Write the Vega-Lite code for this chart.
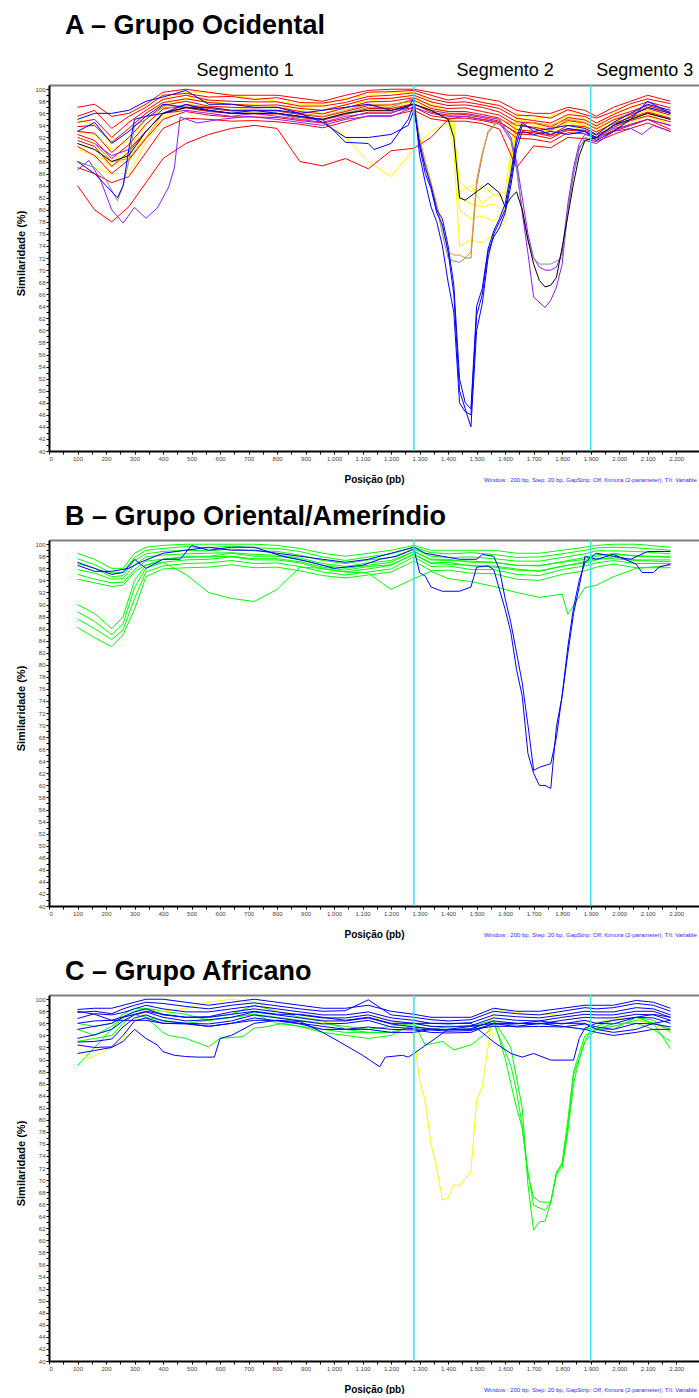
{
"$schema":"https://vega.github.io/schema/vega-lite/v6.json",
"padding":{"left":15,"top":12,"right":0,"bottom":0},
"resolve":{"scale":{"color":"independent"}},
"config":{"view":{"stroke":null},"font":"Liberation Sans",
"axis":{"labelFont":"Liberation Sans","labelFontSize":6,"labelColor":"#444","tickColor":"#000","tickSize":3,"domainColor":"#000","domainWidth":2,"grid":false,"titleFont":"Liberation Sans","titleFontWeight":"bold","titleColor":"#000"},
"title":{"anchor":"start","frame":"group","dx":16,"font":"Liberation Sans","fontSize":27,"fontWeight":"bold","color":"#000","offset":8},
"concat":{"spacing":19}},
"datasets":{
"A":[
{"s":"y6","x":100,"y":88},{"s":"y6","x":160,"y":87},{"s":"y6","x":220,"y":86},{"s":"y6","x":280,"y":86},{"s":"y6","x":340,"y":91},{"s":"y6","x":400,"y":95},{"s":"y6","x":480,"y":97},{"s":"y6","x":560,"y":96.5},{"s":"y6","x":640,"y":96},{"s":"y6","x":720,"y":96},{"s":"y6","x":800,"y":96},{"s":"y6","x":880,"y":95.5},{"s":"y6","x":960,"y":95},{"s":"y6","x":1040,"y":96},{"s":"y6","x":1120,"y":97},{"s":"y6","x":1200,"y":97},{"s":"y6","x":1280,"y":98},{"s":"y6","x":1340,"y":96.5},{"s":"y6","x":1400,"y":96},{"s":"y6","x":1460,"y":96},{"s":"y6","x":1520,"y":95.5},{"s":"y6","x":1580,"y":95},{"s":"y6","x":1640,"y":94},{"s":"y6","x":1700,"y":93.5},{"s":"y6","x":1760,"y":93},{"s":"y6","x":1820,"y":94.5},{"s":"y6","x":1880,"y":94},{"s":"y6","x":1920,"y":93},{"s":"y6","x":1980,"y":94.5},{"s":"y6","x":2040,"y":95.5},{"s":"y6","x":2100,"y":96.5},{"s":"y6","x":2180,"y":95},
{"s":"y1","x":100,"y":95},{"s":"y1","x":160,"y":94},{"s":"y1","x":220,"y":91},{"s":"y1","x":280,"y":93},{"s":"y1","x":340,"y":96},{"s":"y1","x":400,"y":98.5},{"s":"y1","x":480,"y":99.5},{"s":"y1","x":560,"y":99.5},{"s":"y1","x":640,"y":99},{"s":"y1","x":720,"y":98.5},{"s":"y1","x":800,"y":98},{"s":"y1","x":880,"y":97.5},{"s":"y1","x":960,"y":97.5},{"s":"y1","x":1040,"y":98.5},{"s":"y1","x":1120,"y":99},{"s":"y1","x":1200,"y":99.5},{"s":"y1","x":1280,"y":99.5},{"s":"y1","x":1340,"y":98},{"s":"y1","x":1400,"y":96},{"s":"y1","x":1420,"y":93},{"s":"y1","x":1440,"y":84.5},{"s":"y1","x":1480,"y":83},{"s":"y1","x":1520,"y":84},{"s":"y1","x":1560,"y":82.5},{"s":"y1","x":1600,"y":83},{"s":"y1","x":1620,"y":90},{"s":"y1","x":1640,"y":96},{"s":"y1","x":1700,"y":95},{"s":"y1","x":1760,"y":95.5},{"s":"y1","x":1820,"y":96.5},{"s":"y1","x":1880,"y":95},{"s":"y1","x":1920,"y":94},{"s":"y1","x":1980,"y":96},{"s":"y1","x":2040,"y":97},{"s":"y1","x":2100,"y":97.5},{"s":"y1","x":2180,"y":96},
{"s":"y2","x":100,"y":92},{"s":"y2","x":160,"y":91},{"s":"y2","x":220,"y":88},{"s":"y2","x":280,"y":90},{"s":"y2","x":340,"y":94},{"s":"y2","x":400,"y":97},{"s":"y2","x":480,"y":98.5},{"s":"y2","x":560,"y":98},{"s":"y2","x":640,"y":97.5},{"s":"y2","x":720,"y":97},{"s":"y2","x":800,"y":97},{"s":"y2","x":880,"y":96.5},{"s":"y2","x":960,"y":96},{"s":"y2","x":1040,"y":97},{"s":"y2","x":1120,"y":97.5},{"s":"y2","x":1200,"y":97},{"s":"y2","x":1280,"y":98.5},{"s":"y2","x":1340,"y":97.5},{"s":"y2","x":1400,"y":95.5},{"s":"y2","x":1420,"y":94},{"s":"y2","x":1440,"y":82},{"s":"y2","x":1480,"y":81},{"s":"y2","x":1520,"y":80.5},{"s":"y2","x":1560,"y":81},{"s":"y2","x":1600,"y":79.5},{"s":"y2","x":1620,"y":86},{"s":"y2","x":1640,"y":95},{"s":"y2","x":1700,"y":94.5},{"s":"y2","x":1760,"y":94},{"s":"y2","x":1820,"y":95.5},{"s":"y2","x":1880,"y":94.5},{"s":"y2","x":1920,"y":93.5},{"s":"y2","x":1980,"y":95},{"s":"y2","x":2040,"y":96},{"s":"y2","x":2100,"y":96.5},{"s":"y2","x":2180,"y":95.5},
{"s":"y3","x":100,"y":90},{"s":"y3","x":160,"y":89},{"s":"y3","x":220,"y":88},{"s":"y3","x":280,"y":88},{"s":"y3","x":340,"y":93},{"s":"y3","x":400,"y":96},{"s":"y3","x":480,"y":97.5},{"s":"y3","x":560,"y":97},{"s":"y3","x":640,"y":97},{"s":"y3","x":720,"y":96.5},{"s":"y3","x":800,"y":96.5},{"s":"y3","x":880,"y":96},{"s":"y3","x":960,"y":95.5},{"s":"y3","x":1040,"y":92},{"s":"y3","x":1120,"y":88},{"s":"y3","x":1200,"y":85.5},{"s":"y3","x":1280,"y":90},{"s":"y3","x":1340,"y":93},{"s":"y3","x":1400,"y":94.5},{"s":"y3","x":1420,"y":90},{"s":"y3","x":1440,"y":74},{"s":"y3","x":1480,"y":75},{"s":"y3","x":1520,"y":74.5},{"s":"y3","x":1560,"y":76},{"s":"y3","x":1600,"y":78},{"s":"y3","x":1620,"y":88},{"s":"y3","x":1640,"y":94.5},{"s":"y3","x":1700,"y":93.5},{"s":"y3","x":1760,"y":93},{"s":"y3","x":1820,"y":94.5},{"s":"y3","x":1880,"y":93.5},{"s":"y3","x":1920,"y":92.5},{"s":"y3","x":1980,"y":94},{"s":"y3","x":2040,"y":95},{"s":"y3","x":2100,"y":96},{"s":"y3","x":2180,"y":94},
{"s":"y4","x":100,"y":93},{"s":"y4","x":160,"y":92.5},{"s":"y4","x":220,"y":90},{"s":"y4","x":280,"y":91.5},{"s":"y4","x":340,"y":95},{"s":"y4","x":400,"y":97.5},{"s":"y4","x":480,"y":98.5},{"s":"y4","x":560,"y":98},{"s":"y4","x":640,"y":97.5},{"s":"y4","x":720,"y":97.5},{"s":"y4","x":800,"y":97},{"s":"y4","x":880,"y":97},{"s":"y4","x":960,"y":96.5},{"s":"y4","x":1040,"y":97.5},{"s":"y4","x":1120,"y":98},{"s":"y4","x":1200,"y":98.5},{"s":"y4","x":1280,"y":99},{"s":"y4","x":1340,"y":97},{"s":"y4","x":1400,"y":96.5},{"s":"y4","x":1420,"y":95},{"s":"y4","x":1440,"y":80},{"s":"y4","x":1480,"y":78.5},{"s":"y4","x":1520,"y":79},{"s":"y4","x":1560,"y":78},{"s":"y4","x":1600,"y":80.5},{"s":"y4","x":1620,"y":88},{"s":"y4","x":1640,"y":95.5},{"s":"y4","x":1700,"y":94},{"s":"y4","x":1760,"y":93.5},{"s":"y4","x":1820,"y":95},{"s":"y4","x":1880,"y":94},{"s":"y4","x":1920,"y":93},{"s":"y4","x":1980,"y":94.5},{"s":"y4","x":2040,"y":95.5},{"s":"y4","x":2100,"y":96},{"s":"y4","x":2180,"y":95},
{"s":"y5","x":100,"y":91},{"s":"y5","x":160,"y":90},{"s":"y5","x":220,"y":87},{"s":"y5","x":280,"y":89},{"s":"y5","x":340,"y":92},{"s":"y5","x":400,"y":95.5},{"s":"y5","x":480,"y":97},{"s":"y5","x":560,"y":97},{"s":"y5","x":640,"y":96.5},{"s":"y5","x":720,"y":96},{"s":"y5","x":800,"y":96},{"s":"y5","x":880,"y":95.5},{"s":"y5","x":960,"y":95},{"s":"y5","x":1040,"y":96},{"s":"y5","x":1120,"y":96.5},{"s":"y5","x":1200,"y":96.5},{"s":"y5","x":1280,"y":97.5},{"s":"y5","x":1340,"y":96.5},{"s":"y5","x":1400,"y":95},{"s":"y5","x":1420,"y":93},{"s":"y5","x":1440,"y":83},{"s":"y5","x":1480,"y":84},{"s":"y5","x":1520,"y":81},{"s":"y5","x":1560,"y":82.5},{"s":"y5","x":1600,"y":82},{"s":"y5","x":1620,"y":85},{"s":"y5","x":1640,"y":93.5},{"s":"y5","x":1700,"y":93},{"s":"y5","x":1760,"y":92.5},{"s":"y5","x":1820,"y":94},{"s":"y5","x":1880,"y":93},{"s":"y5","x":1920,"y":92},{"s":"y5","x":1980,"y":93.5},{"s":"y5","x":2040,"y":94.5},{"s":"y5","x":2100,"y":95.5},{"s":"y5","x":2180,"y":94},
{"s":"r1","x":100,"y":97},{"s":"r1","x":160,"y":97.5},{"s":"r1","x":220,"y":95.5},{"s":"r1","x":280,"y":96},{"s":"r1","x":340,"y":97.5},{"s":"r1","x":400,"y":99.5},{"s":"r1","x":480,"y":100},{"s":"r1","x":560,"y":99.5},{"s":"r1","x":640,"y":99},{"s":"r1","x":720,"y":99},{"s":"r1","x":800,"y":99},{"s":"r1","x":880,"y":98.5},{"s":"r1","x":960,"y":98},{"s":"r1","x":1040,"y":99},{"s":"r1","x":1120,"y":99.8},{"s":"r1","x":1200,"y":100},{"s":"r1","x":1280,"y":100},{"s":"r1","x":1340,"y":99.5},{"s":"r1","x":1400,"y":99},{"s":"r1","x":1460,"y":99},{"s":"r1","x":1520,"y":98.5},{"s":"r1","x":1580,"y":98},{"s":"r1","x":1640,"y":96.5},{"s":"r1","x":1700,"y":96},{"s":"r1","x":1760,"y":96},{"s":"r1","x":1820,"y":97},{"s":"r1","x":1880,"y":96.5},{"s":"r1","x":1920,"y":95.5},{"s":"r1","x":1980,"y":97},{"s":"r1","x":2040,"y":98},{"s":"r1","x":2100,"y":99},{"s":"r1","x":2180,"y":98},
{"s":"r2","x":100,"y":95.5},{"s":"r2","x":160,"y":96.5},{"s":"r2","x":220,"y":93.5},{"s":"r2","x":280,"y":95.5},{"s":"r2","x":340,"y":97},{"s":"r2","x":400,"y":99},{"s":"r2","x":480,"y":99.3},{"s":"r2","x":560,"y":98.7},{"s":"r2","x":640,"y":98.8},{"s":"r2","x":720,"y":98.3},{"s":"r2","x":800,"y":98.6},{"s":"r2","x":880,"y":97.8},{"s":"r2","x":960,"y":97.7},{"s":"r2","x":1040,"y":98.3},{"s":"r2","x":1120,"y":99.5},{"s":"r2","x":1200,"y":99.6},{"s":"r2","x":1280,"y":99.8},{"s":"r2","x":1340,"y":99},{"s":"r2","x":1400,"y":98.2},{"s":"r2","x":1460,"y":98.6},{"s":"r2","x":1520,"y":97.8},{"s":"r2","x":1580,"y":97.3},{"s":"r2","x":1640,"y":95.7},{"s":"r2","x":1700,"y":95.6},{"s":"r2","x":1760,"y":95.2},{"s":"r2","x":1820,"y":96.6},{"s":"r2","x":1880,"y":95.8},{"s":"r2","x":1920,"y":95.2},{"s":"r2","x":1980,"y":96.3},{"s":"r2","x":2040,"y":97.6},{"s":"r2","x":2100,"y":98.4},{"s":"r2","x":2180,"y":97.6},
{"s":"r3","x":100,"y":94.5},{"s":"r3","x":160,"y":95},{"s":"r3","x":220,"y":92},{"s":"r3","x":280,"y":94.5},{"s":"r3","x":340,"y":96.5},{"s":"r3","x":400,"y":98.3},{"s":"r3","x":480,"y":99},{"s":"r3","x":560,"y":98.2},{"s":"r3","x":640,"y":98},{"s":"r3","x":720,"y":97.9},{"s":"r3","x":800,"y":97.9},{"s":"r3","x":880,"y":97.2},{"s":"r3","x":960,"y":97.2},{"s":"r3","x":1040,"y":97.8},{"s":"r3","x":1120,"y":98.8},{"s":"r3","x":1200,"y":99},{"s":"r3","x":1280,"y":99.4},{"s":"r3","x":1340,"y":98.4},{"s":"r3","x":1400,"y":97.8},{"s":"r3","x":1460,"y":97.9},{"s":"r3","x":1520,"y":97.4},{"s":"r3","x":1580,"y":96.8},{"s":"r3","x":1640,"y":95.2},{"s":"r3","x":1700,"y":94.8},{"s":"r3","x":1760,"y":94.4},{"s":"r3","x":1820,"y":95.8},{"s":"r3","x":1880,"y":95.5},{"s":"r3","x":1920,"y":94.4},{"s":"r3","x":1980,"y":95.8},{"s":"r3","x":2040,"y":97},{"s":"r3","x":2100,"y":97.9},{"s":"r3","x":2180,"y":96.9},
{"s":"r4","x":100,"y":93.8},{"s":"r4","x":160,"y":94},{"s":"r4","x":220,"y":91.2},{"s":"r4","x":280,"y":93.5},{"s":"r4","x":340,"y":96},{"s":"r4","x":400,"y":97.8},{"s":"r4","x":480,"y":98.4},{"s":"r4","x":560,"y":97.8},{"s":"r4","x":640,"y":97.5},{"s":"r4","x":720,"y":97.3},{"s":"r4","x":800,"y":97.4},{"s":"r4","x":880,"y":96.8},{"s":"r4","x":960,"y":96.5},{"s":"r4","x":1040,"y":97.4},{"s":"r4","x":1120,"y":98.4},{"s":"r4","x":1200,"y":98.5},{"s":"r4","x":1280,"y":99},{"s":"r4","x":1340,"y":97.9},{"s":"r4","x":1400,"y":97.3},{"s":"r4","x":1460,"y":97.4},{"s":"r4","x":1520,"y":97},{"s":"r4","x":1580,"y":96.2},{"s":"r4","x":1640,"y":94.6},{"s":"r4","x":1700,"y":94.4},{"s":"r4","x":1760,"y":93.7},{"s":"r4","x":1820,"y":95.3},{"s":"r4","x":1880,"y":94.9},{"s":"r4","x":1920,"y":93.9},{"s":"r4","x":1980,"y":95.4},{"s":"r4","x":2040,"y":96.3},{"s":"r4","x":2100,"y":97.3},{"s":"r4","x":2180,"y":96.2},
{"s":"r5","x":100,"y":93},{"s":"r5","x":160,"y":92.7},{"s":"r5","x":220,"y":89.5},{"s":"r5","x":280,"y":92},{"s":"r5","x":340,"y":95},{"s":"r5","x":400,"y":97.3},{"s":"r5","x":480,"y":98},{"s":"r5","x":560,"y":97.2},{"s":"r5","x":640,"y":97},{"s":"r5","x":720,"y":96.9},{"s":"r5","x":800,"y":97},{"s":"r5","x":880,"y":96.3},{"s":"r5","x":960,"y":95.9},{"s":"r5","x":1040,"y":96.9},{"s":"r5","x":1120,"y":97.9},{"s":"r5","x":1200,"y":98},{"s":"r5","x":1280,"y":98.6},{"s":"r5","x":1340,"y":97.3},{"s":"r5","x":1400,"y":96.8},{"s":"r5","x":1460,"y":96.9},{"s":"r5","x":1520,"y":96.3},{"s":"r5","x":1580,"y":95.7},{"s":"r5","x":1640,"y":94},{"s":"r5","x":1700,"y":93.7},{"s":"r5","x":1760,"y":93.2},{"s":"r5","x":1820,"y":94.8},{"s":"r5","x":1880,"y":94.4},{"s":"r5","x":1920,"y":93.4},{"s":"r5","x":1980,"y":94.9},{"s":"r5","x":2040,"y":95.8},{"s":"r5","x":2100,"y":96.8},{"s":"r5","x":2180,"y":95.7},
{"s":"r6","x":100,"y":92.5},{"s":"r6","x":160,"y":91.5},{"s":"r6","x":220,"y":88.5},{"s":"r6","x":280,"y":90.8},{"s":"r6","x":340,"y":94.2},{"s":"r6","x":400,"y":96.7},{"s":"r6","x":480,"y":97.4},{"s":"r6","x":560,"y":96.8},{"s":"r6","x":640,"y":96.4},{"s":"r6","x":720,"y":96.4},{"s":"r6","x":800,"y":96.4},{"s":"r6","x":880,"y":95.8},{"s":"r6","x":960,"y":95.4},{"s":"r6","x":1040,"y":96.3},{"s":"r6","x":1120,"y":97.3},{"s":"r6","x":1200,"y":97.4},{"s":"r6","x":1280,"y":98.2},{"s":"r6","x":1340,"y":96.8},{"s":"r6","x":1400,"y":96.3},{"s":"r6","x":1460,"y":96.3},{"s":"r6","x":1520,"y":95.8},{"s":"r6","x":1580,"y":95.2},{"s":"r6","x":1640,"y":93.3},{"s":"r6","x":1700,"y":93},{"s":"r6","x":1760,"y":92.4},{"s":"r6","x":1820,"y":94},{"s":"r6","x":1880,"y":93.8},{"s":"r6","x":1920,"y":92.9},{"s":"r6","x":1980,"y":94.3},{"s":"r6","x":2040,"y":95.3},{"s":"r6","x":2100,"y":96.2},{"s":"r6","x":2180,"y":95.2},
{"s":"r7","x":100,"y":91.5},{"s":"r7","x":160,"y":90.5},{"s":"r7","x":220,"y":87.2},{"s":"r7","x":280,"y":89.6},{"s":"r7","x":340,"y":93},{"s":"r7","x":400,"y":96},{"s":"r7","x":480,"y":96.9},{"s":"r7","x":560,"y":96.3},{"s":"r7","x":640,"y":96},{"s":"r7","x":720,"y":95.9},{"s":"r7","x":800,"y":95.9},{"s":"r7","x":880,"y":95.3},{"s":"r7","x":960,"y":94.9},{"s":"r7","x":1040,"y":95.8},{"s":"r7","x":1120,"y":96.8},{"s":"r7","x":1200,"y":96.8},{"s":"r7","x":1280,"y":97.6},{"s":"r7","x":1340,"y":96.2},{"s":"r7","x":1400,"y":95.7},{"s":"r7","x":1460,"y":95.8},{"s":"r7","x":1520,"y":95.3},{"s":"r7","x":1580,"y":94.7},{"s":"r7","x":1640,"y":92.6},{"s":"r7","x":1700,"y":92.4},{"s":"r7","x":1760,"y":91.8},{"s":"r7","x":1820,"y":93.4},{"s":"r7","x":1880,"y":93.2},{"s":"r7","x":1920,"y":92.4},{"s":"r7","x":1980,"y":93.7},{"s":"r7","x":2040,"y":94.8},{"s":"r7","x":2100,"y":95.6},{"s":"r7","x":2180,"y":94.6},
{"s":"r8","x":100,"y":90.5},{"s":"r8","x":160,"y":89},{"s":"r8","x":220,"y":86},{"s":"r8","x":280,"y":88.3},{"s":"r8","x":340,"y":91.8},{"s":"r8","x":400,"y":95},{"s":"r8","x":480,"y":96.3},{"s":"r8","x":560,"y":95.7},{"s":"r8","x":640,"y":95.4},{"s":"r8","x":720,"y":95.4},{"s":"r8","x":800,"y":95.3},{"s":"r8","x":880,"y":94.8},{"s":"r8","x":960,"y":94.4},{"s":"r8","x":1040,"y":95.2},{"s":"r8","x":1120,"y":96.2},{"s":"r8","x":1200,"y":96.2},{"s":"r8","x":1280,"y":97},{"s":"r8","x":1340,"y":95.6},{"s":"r8","x":1400,"y":95.2},{"s":"r8","x":1460,"y":95.2},{"s":"r8","x":1520,"y":94.8},{"s":"r8","x":1580,"y":94.2},{"s":"r8","x":1640,"y":91.9},{"s":"r8","x":1700,"y":91.7},{"s":"r8","x":1760,"y":91.2},{"s":"r8","x":1820,"y":92.8},{"s":"r8","x":1880,"y":92.6},{"s":"r8","x":1920,"y":91.8},{"s":"r8","x":1980,"y":93.2},{"s":"r8","x":2040,"y":94.2},{"s":"r8","x":2100,"y":95},{"s":"r8","x":2180,"y":94},
{"s":"r9","x":100,"y":87},{"s":"r9","x":160,"y":86},{"s":"r9","x":220,"y":84.5},{"s":"r9","x":280,"y":85.5},{"s":"r9","x":340,"y":89.5},{"s":"r9","x":400,"y":93.5},{"s":"r9","x":480,"y":95.2},{"s":"r9","x":560,"y":95},{"s":"r9","x":640,"y":94.7},{"s":"r9","x":720,"y":94.8},{"s":"r9","x":800,"y":94.6},{"s":"r9","x":880,"y":94.2},{"s":"r9","x":960,"y":93.6},{"s":"r9","x":1040,"y":94.6},{"s":"r9","x":1120,"y":95.6},{"s":"r9","x":1200,"y":95.6},{"s":"r9","x":1280,"y":96.5},{"s":"r9","x":1340,"y":95.1},{"s":"r9","x":1400,"y":94.7},{"s":"r9","x":1460,"y":94.7},{"s":"r9","x":1520,"y":94.3},{"s":"r9","x":1580,"y":93.4},{"s":"r9","x":1640,"y":87},{"s":"r9","x":1700,"y":90.6},{"s":"r9","x":1760,"y":90.3},{"s":"r9","x":1820,"y":92},{"s":"r9","x":1880,"y":91.8},{"s":"r9","x":1920,"y":91.3},{"s":"r9","x":1980,"y":92.5},{"s":"r9","x":2040,"y":93.5},{"s":"r9","x":2100,"y":94.4},{"s":"r9","x":2180,"y":93},
{"s":"r10","x":100,"y":84},{"s":"r10","x":160,"y":80},{"s":"r10","x":220,"y":78},{"s":"r10","x":280,"y":80.5},{"s":"r10","x":340,"y":84.5},{"s":"r10","x":400,"y":88.5},{"s":"r10","x":480,"y":91},{"s":"r10","x":560,"y":92.5},{"s":"r10","x":640,"y":93.5},{"s":"r10","x":720,"y":94},{"s":"r10","x":800,"y":93.5},{"s":"r10","x":880,"y":88},{"s":"r10","x":960,"y":87.3},{"s":"r10","x":1040,"y":88.5},{"s":"r10","x":1120,"y":86.8},{"s":"r10","x":1200,"y":89.8},{"s":"r10","x":1280,"y":90.2},{"s":"r10","x":1340,"y":92},{"s":"r10","x":1400,"y":95},{"s":"r10","x":1460,"y":95.5},{"s":"r10","x":1520,"y":95},{"s":"r10","x":1580,"y":94.5},{"s":"r10","x":1640,"y":92.8},{"s":"r10","x":1700,"y":92.8},{"s":"r10","x":1760,"y":92.2},{"s":"r10","x":1820,"y":93.2},{"s":"r10","x":1880,"y":93},{"s":"r10","x":1920,"y":92},{"s":"r10","x":1980,"y":93},{"s":"r10","x":2040,"y":94},{"s":"r10","x":2100,"y":95},{"s":"r10","x":2180,"y":93.3},
{"s":"p1","x":100,"y":86.6},{"s":"p1","x":140,"y":88.2},{"s":"p1","x":180,"y":85},{"s":"p1","x":220,"y":80},{"s":"p1","x":260,"y":77.8},{"s":"p1","x":300,"y":80.4},{"s":"p1","x":340,"y":78.6},{"s":"p1","x":380,"y":80.3},{"s":"p1","x":420,"y":83.8},{"s":"p1","x":440,"y":87},{"s":"p1","x":460,"y":95.4},{"s":"p1","x":520,"y":94.4},{"s":"p1","x":600,"y":95},{"s":"p1","x":700,"y":95.5},{"s":"p1","x":800,"y":95},{"s":"p1","x":880,"y":94.5},{"s":"p1","x":960,"y":94},{"s":"p1","x":1040,"y":95},{"s":"p1","x":1120,"y":95.5},{"s":"p1","x":1200,"y":95.5},{"s":"p1","x":1280,"y":97},{"s":"p1","x":1340,"y":96},{"s":"p1","x":1400,"y":95.5},{"s":"p1","x":1460,"y":95.5},{"s":"p1","x":1520,"y":95},{"s":"p1","x":1580,"y":94.5},{"s":"p1","x":1620,"y":91.5},{"s":"p1","x":1640,"y":87},{"s":"p1","x":1660,"y":79.5},{"s":"p1","x":1680,"y":72.8},{"s":"p1","x":1700,"y":65.5},{"s":"p1","x":1740,"y":63.8},{"s":"p1","x":1760,"y":65},{"s":"p1","x":1780,"y":67.2},{"s":"p1","x":1800,"y":71},{"s":"p1","x":1820,"y":80},{"s":"p1","x":1840,"y":86},{"s":"p1","x":1860,"y":90.4},{"s":"p1","x":1880,"y":91.5},{"s":"p1","x":1920,"y":91},{"s":"p1","x":1980,"y":93},{"s":"p1","x":2040,"y":93.5},{"s":"p1","x":2080,"y":92.5},{"s":"p1","x":2120,"y":94},{"s":"p1","x":2180,"y":93},
{"s":"p2","x":100,"y":92},{"s":"p2","x":160,"y":91},{"s":"p2","x":220,"y":89},{"s":"p2","x":280,"y":90},{"s":"p2","x":340,"y":93},{"s":"p2","x":400,"y":96},{"s":"p2","x":480,"y":96.5},{"s":"p2","x":560,"y":96},{"s":"p2","x":640,"y":95.5},{"s":"p2","x":720,"y":96},{"s":"p2","x":800,"y":95.5},{"s":"p2","x":880,"y":95},{"s":"p2","x":960,"y":94.5},{"s":"p2","x":1040,"y":95.5},{"s":"p2","x":1120,"y":96},{"s":"p2","x":1200,"y":96},{"s":"p2","x":1280,"y":97.5},{"s":"p2","x":1340,"y":96.5},{"s":"p2","x":1400,"y":96},{"s":"p2","x":1460,"y":96},{"s":"p2","x":1520,"y":95.5},{"s":"p2","x":1580,"y":95},{"s":"p2","x":1620,"y":92},{"s":"p2","x":1640,"y":88},{"s":"p2","x":1660,"y":82},{"s":"p2","x":1680,"y":76},{"s":"p2","x":1700,"y":72},{"s":"p2","x":1720,"y":70.5},{"s":"p2","x":1740,"y":70},{"s":"p2","x":1760,"y":70},{"s":"p2","x":1780,"y":70.5},{"s":"p2","x":1800,"y":73},{"s":"p2","x":1820,"y":81},{"s":"p2","x":1840,"y":87},{"s":"p2","x":1860,"y":91},{"s":"p2","x":1880,"y":92.5},{"s":"p2","x":1920,"y":92},{"s":"p2","x":1980,"y":93.5},{"s":"p2","x":2040,"y":94},{"s":"p2","x":2100,"y":95},{"s":"p2","x":2180,"y":94},
{"s":"g1","x":100,"y":88},{"s":"g1","x":160,"y":87},{"s":"g1","x":200,"y":85},{"s":"g1","x":240,"y":81.5},{"s":"g1","x":260,"y":84},{"s":"g1","x":280,"y":88},{"s":"g1","x":300,"y":94},{"s":"g1","x":340,"y":95},{"s":"g1","x":400,"y":97},{"s":"g1","x":480,"y":97},{"s":"g1","x":560,"y":96.5},{"s":"g1","x":640,"y":96},{"s":"g1","x":720,"y":96},{"s":"g1","x":800,"y":96},{"s":"g1","x":880,"y":95},{"s":"g1","x":960,"y":95},{"s":"g1","x":1040,"y":96},{"s":"g1","x":1120,"y":97},{"s":"g1","x":1200,"y":97},{"s":"g1","x":1280,"y":98.5},{"s":"g1","x":1300,"y":91},{"s":"g1","x":1320,"y":87.5},{"s":"g1","x":1340,"y":84},{"s":"g1","x":1360,"y":80.5},{"s":"g1","x":1380,"y":76},{"s":"g1","x":1400,"y":72},{"s":"g1","x":1420,"y":71.5},{"s":"g1","x":1440,"y":71.3},{"s":"g1","x":1460,"y":72},{"s":"g1","x":1480,"y":72},{"s":"g1","x":1500,"y":84},{"s":"g1","x":1520,"y":89},{"s":"g1","x":1540,"y":93},{"s":"g1","x":1580,"y":95},{"s":"g1","x":1620,"y":92},{"s":"g1","x":1640,"y":87},{"s":"g1","x":1660,"y":80},{"s":"g1","x":1680,"y":75},{"s":"g1","x":1700,"y":72},{"s":"g1","x":1720,"y":71},{"s":"g1","x":1760,"y":71},{"s":"g1","x":1780,"y":71.5},{"s":"g1","x":1800,"y":72},{"s":"g1","x":1820,"y":80},{"s":"g1","x":1840,"y":86},{"s":"g1","x":1860,"y":90},{"s":"g1","x":1880,"y":92},{"s":"g1","x":1920,"y":91.5},{"s":"g1","x":1980,"y":94},{"s":"g1","x":2040,"y":95},{"s":"g1","x":2100,"y":96},{"s":"g1","x":2180,"y":95},
{"s":"o1","x":100,"y":92},{"s":"o1","x":160,"y":91},{"s":"o1","x":220,"y":88},{"s":"o1","x":280,"y":88.5},{"s":"o1","x":340,"y":92},{"s":"o1","x":400,"y":96},{"s":"o1","x":480,"y":97.5},{"s":"o1","x":560,"y":97},{"s":"o1","x":640,"y":96.5},{"s":"o1","x":720,"y":96.5},{"s":"o1","x":800,"y":96.5},{"s":"o1","x":880,"y":96},{"s":"o1","x":960,"y":95.5},{"s":"o1","x":1040,"y":96.5},{"s":"o1","x":1120,"y":97.5},{"s":"o1","x":1200,"y":97.5},{"s":"o1","x":1280,"y":98},{"s":"o1","x":1300,"y":92},{"s":"o1","x":1320,"y":88},{"s":"o1","x":1340,"y":84.5},{"s":"o1","x":1360,"y":81},{"s":"o1","x":1380,"y":77},{"s":"o1","x":1400,"y":73},{"s":"o1","x":1420,"y":72.5},{"s":"o1","x":1440,"y":72.5},{"s":"o1","x":1460,"y":72},{"s":"o1","x":1480,"y":73},{"s":"o1","x":1500,"y":85},{"s":"o1","x":1520,"y":89.5},{"s":"o1","x":1540,"y":92.7},{"s":"o1","x":1580,"y":95},{"s":"o1","x":1640,"y":94},{"s":"o1","x":1700,"y":94.5},{"s":"o1","x":1760,"y":94},{"s":"o1","x":1820,"y":95},{"s":"o1","x":1880,"y":94.5},{"s":"o1","x":1920,"y":93.5},{"s":"o1","x":1980,"y":95},{"s":"o1","x":2040,"y":96},{"s":"o1","x":2100,"y":97},{"s":"o1","x":2180,"y":96},
{"s":"k1","x":100,"y":91},{"s":"k1","x":160,"y":90},{"s":"k1","x":220,"y":88},{"s":"k1","x":280,"y":89},{"s":"k1","x":340,"y":93},{"s":"k1","x":400,"y":96},{"s":"k1","x":480,"y":97},{"s":"k1","x":560,"y":96.5},{"s":"k1","x":640,"y":96},{"s":"k1","x":720,"y":96},{"s":"k1","x":800,"y":96},{"s":"k1","x":880,"y":95.5},{"s":"k1","x":960,"y":95},{"s":"k1","x":1040,"y":96},{"s":"k1","x":1120,"y":96.5},{"s":"k1","x":1200,"y":96.5},{"s":"k1","x":1280,"y":97.5},{"s":"k1","x":1340,"y":96.5},{"s":"k1","x":1400,"y":95},{"s":"k1","x":1420,"y":92},{"s":"k1","x":1440,"y":82},{"s":"k1","x":1460,"y":81.6},{"s":"k1","x":1500,"y":83},{"s":"k1","x":1540,"y":84.4},{"s":"k1","x":1580,"y":82.8},{"s":"k1","x":1600,"y":80.5},{"s":"k1","x":1620,"y":82},{"s":"k1","x":1640,"y":83},{"s":"k1","x":1660,"y":80},{"s":"k1","x":1680,"y":75},{"s":"k1","x":1700,"y":71},{"s":"k1","x":1720,"y":68.3},{"s":"k1","x":1740,"y":67.2},{"s":"k1","x":1760,"y":67.5},{"s":"k1","x":1780,"y":68.8},{"s":"k1","x":1800,"y":73.8},{"s":"k1","x":1820,"y":79},{"s":"k1","x":1840,"y":84.4},{"s":"k1","x":1860,"y":89},{"s":"k1","x":1880,"y":91.5},{"s":"k1","x":1920,"y":92},{"s":"k1","x":1980,"y":94},{"s":"k1","x":2040,"y":95},{"s":"k1","x":2100,"y":96},{"s":"k1","x":2180,"y":95},
{"s":"b1","x":100,"y":95},{"s":"b1","x":160,"y":96},{"s":"b1","x":220,"y":96},{"s":"b1","x":280,"y":96.5},{"s":"b1","x":340,"y":98},{"s":"b1","x":400,"y":98.7},{"s":"b1","x":480,"y":99.8},{"s":"b1","x":560,"y":97.5},{"s":"b1","x":640,"y":97.5},{"s":"b1","x":720,"y":97},{"s":"b1","x":800,"y":97},{"s":"b1","x":880,"y":96},{"s":"b1","x":960,"y":96.5},{"s":"b1","x":1040,"y":97},{"s":"b1","x":1120,"y":97.5},{"s":"b1","x":1200,"y":96.5},{"s":"b1","x":1260,"y":97},{"s":"b1","x":1280,"y":98.5},{"s":"b1","x":1300,"y":89},{"s":"b1","x":1320,"y":84.5},{"s":"b1","x":1340,"y":80.5},{"s":"b1","x":1360,"y":78},{"s":"b1","x":1380,"y":74},{"s":"b1","x":1400,"y":68},{"s":"b1","x":1420,"y":63},{"s":"b1","x":1440,"y":48},{"s":"b1","x":1460,"y":46.5},{"s":"b1","x":1480,"y":46},{"s":"b1","x":1500,"y":62.5},{"s":"b1","x":1520,"y":66},{"s":"b1","x":1540,"y":73},{"s":"b1","x":1560,"y":75.5},{"s":"b1","x":1580,"y":77},{"s":"b1","x":1600,"y":79.5},{"s":"b1","x":1620,"y":84},{"s":"b1","x":1640,"y":90},{"s":"b1","x":1660,"y":93},{"s":"b1","x":1700,"y":92.5},{"s":"b1","x":1760,"y":93},{"s":"b1","x":1820,"y":92.5},{"s":"b1","x":1880,"y":93},{"s":"b1","x":1920,"y":91.5},{"s":"b1","x":1980,"y":93},{"s":"b1","x":2040,"y":95},{"s":"b1","x":2100,"y":98},{"s":"b1","x":2180,"y":96},
{"s":"b2","x":100,"y":88},{"s":"b2","x":160,"y":86},{"s":"b2","x":200,"y":84},{"s":"b2","x":240,"y":82},{"s":"b2","x":260,"y":84},{"s":"b2","x":280,"y":90},{"s":"b2","x":300,"y":95},{"s":"b2","x":340,"y":95.5},{"s":"b2","x":400,"y":96},{"s":"b2","x":480,"y":97.5},{"s":"b2","x":560,"y":96.5},{"s":"b2","x":640,"y":96},{"s":"b2","x":720,"y":96.5},{"s":"b2","x":800,"y":96},{"s":"b2","x":880,"y":95.5},{"s":"b2","x":960,"y":95},{"s":"b2","x":1040,"y":91.2},{"s":"b2","x":1120,"y":91},{"s":"b2","x":1140,"y":90},{"s":"b2","x":1200,"y":91},{"s":"b2","x":1260,"y":95},{"s":"b2","x":1280,"y":97.5},{"s":"b2","x":1300,"y":90.5},{"s":"b2","x":1320,"y":86},{"s":"b2","x":1340,"y":83.5},{"s":"b2","x":1360,"y":79.5},{"s":"b2","x":1380,"y":77.5},{"s":"b2","x":1400,"y":73},{"s":"b2","x":1420,"y":66},{"s":"b2","x":1440,"y":50},{"s":"b2","x":1460,"y":47},{"s":"b2","x":1480,"y":44},{"s":"b2","x":1500,"y":60},{"s":"b2","x":1520,"y":64.5},{"s":"b2","x":1540,"y":72},{"s":"b2","x":1560,"y":76},{"s":"b2","x":1580,"y":78},{"s":"b2","x":1600,"y":80},{"s":"b2","x":1620,"y":85},{"s":"b2","x":1640,"y":91},{"s":"b2","x":1660,"y":94},{"s":"b2","x":1700,"y":93.5},{"s":"b2","x":1760,"y":92.5},{"s":"b2","x":1820,"y":93.5},{"s":"b2","x":1880,"y":93},{"s":"b2","x":1920,"y":92},{"s":"b2","x":1980,"y":94},{"s":"b2","x":2040,"y":95.5},{"s":"b2","x":2100,"y":97},{"s":"b2","x":2180,"y":96},
{"s":"b3","x":100,"y":93},{"s":"b3","x":160,"y":94.5},{"s":"b3","x":220,"y":91},{"s":"b3","x":280,"y":93},{"s":"b3","x":340,"y":95.5},{"s":"b3","x":400,"y":97.5},{"s":"b3","x":480,"y":97},{"s":"b3","x":560,"y":97},{"s":"b3","x":640,"y":96.5},{"s":"b3","x":720,"y":96.5},{"s":"b3","x":800,"y":96.5},{"s":"b3","x":880,"y":96},{"s":"b3","x":960,"y":94.5},{"s":"b3","x":1040,"y":92},{"s":"b3","x":1120,"y":92},{"s":"b3","x":1200,"y":92.5},{"s":"b3","x":1260,"y":94},{"s":"b3","x":1280,"y":96.5},{"s":"b3","x":1300,"y":91},{"s":"b3","x":1320,"y":87},{"s":"b3","x":1340,"y":84},{"s":"b3","x":1360,"y":80},{"s":"b3","x":1380,"y":78.5},{"s":"b3","x":1400,"y":74},{"s":"b3","x":1420,"y":67.5},{"s":"b3","x":1440,"y":52},{"s":"b3","x":1460,"y":48},{"s":"b3","x":1480,"y":47},{"s":"b3","x":1500,"y":64},{"s":"b3","x":1520,"y":67},{"s":"b3","x":1540,"y":73.5},{"s":"b3","x":1560,"y":76.5},{"s":"b3","x":1580,"y":78.5},{"s":"b3","x":1600,"y":81},{"s":"b3","x":1620,"y":86},{"s":"b3","x":1640,"y":92},{"s":"b3","x":1660,"y":94.5},{"s":"b3","x":1700,"y":93},{"s":"b3","x":1760,"y":93.5},{"s":"b3","x":1820,"y":94},{"s":"b3","x":1880,"y":93.5},{"s":"b3","x":1920,"y":92.5},{"s":"b3","x":1980,"y":94.5},{"s":"b3","x":2040,"y":96},{"s":"b3","x":2100,"y":97.5},{"s":"b3","x":2180,"y":96.5}
],
"B":[
{"s":"gu1","x":100,"y":98.5},{"s":"gu1","x":160,"y":97.5},{"s":"gu1","x":220,"y":96},{"s":"gu1","x":260,"y":96},{"s":"gu1","x":300,"y":98.5},{"s":"gu1","x":340,"y":99.5},{"s":"gu1","x":400,"y":99.8},{"s":"gu1","x":480,"y":100},{"s":"gu1","x":560,"y":100},{"s":"gu1","x":640,"y":100},{"s":"gu1","x":720,"y":100},{"s":"gu1","x":800,"y":99.8},{"s":"gu1","x":880,"y":99.3},{"s":"gu1","x":960,"y":98.5},{"s":"gu1","x":1040,"y":98},{"s":"gu1","x":1120,"y":98.5},{"s":"gu1","x":1200,"y":99},{"s":"gu1","x":1280,"y":99.8},{"s":"gu1","x":1340,"y":99},{"s":"gu1","x":1400,"y":99},{"s":"gu1","x":1480,"y":99},{"s":"gu1","x":1560,"y":99},{"s":"gu1","x":1640,"y":98.5},{"s":"gu1","x":1720,"y":98.5},{"s":"gu1","x":1800,"y":99},{"s":"gu1","x":1880,"y":99.5},{"s":"gu1","x":1920,"y":99.8},{"s":"gu1","x":1980,"y":100},{"s":"gu1","x":2060,"y":100},{"s":"gu1","x":2180,"y":99.5},
{"s":"gu2","x":100,"y":97.6},{"s":"gu2","x":160,"y":96.6},{"s":"gu2","x":220,"y":95.2},{"s":"gu2","x":260,"y":95.4},{"s":"gu2","x":300,"y":97.8},{"s":"gu2","x":340,"y":99},{"s":"gu2","x":400,"y":99.3},{"s":"gu2","x":480,"y":99.6},{"s":"gu2","x":560,"y":99.4},{"s":"gu2","x":640,"y":99.7},{"s":"gu2","x":720,"y":99.4},{"s":"gu2","x":800,"y":99.3},{"s":"gu2","x":880,"y":98.8},{"s":"gu2","x":960,"y":97.9},{"s":"gu2","x":1040,"y":97.3},{"s":"gu2","x":1120,"y":97.9},{"s":"gu2","x":1200,"y":98.4},{"s":"gu2","x":1280,"y":99.5},{"s":"gu2","x":1340,"y":98.6},{"s":"gu2","x":1400,"y":98.4},{"s":"gu2","x":1480,"y":98.6},{"s":"gu2","x":1560,"y":98.3},{"s":"gu2","x":1640,"y":97.8},{"s":"gu2","x":1720,"y":97.9},{"s":"gu2","x":1800,"y":98.4},{"s":"gu2","x":1880,"y":99},{"s":"gu2","x":1920,"y":99.4},{"s":"gu2","x":1980,"y":99.5},{"s":"gu2","x":2060,"y":99.4},{"s":"gu2","x":2180,"y":99},
{"s":"gu3","x":100,"y":96.8},{"s":"gu3","x":160,"y":96},{"s":"gu3","x":220,"y":94.6},{"s":"gu3","x":260,"y":94.8},{"s":"gu3","x":300,"y":97.3},{"s":"gu3","x":340,"y":98.4},{"s":"gu3","x":400,"y":98.8},{"s":"gu3","x":480,"y":99},{"s":"gu3","x":560,"y":98.9},{"s":"gu3","x":640,"y":99.2},{"s":"gu3","x":720,"y":98.9},{"s":"gu3","x":800,"y":98.8},{"s":"gu3","x":880,"y":98.2},{"s":"gu3","x":960,"y":97.3},{"s":"gu3","x":1040,"y":96.8},{"s":"gu3","x":1120,"y":97.4},{"s":"gu3","x":1200,"y":97.8},{"s":"gu3","x":1280,"y":99.2},{"s":"gu3","x":1340,"y":98},{"s":"gu3","x":1400,"y":97.8},{"s":"gu3","x":1480,"y":97.9},{"s":"gu3","x":1560,"y":97.6},{"s":"gu3","x":1640,"y":97.2},{"s":"gu3","x":1720,"y":97.2},{"s":"gu3","x":1800,"y":97.8},{"s":"gu3","x":1880,"y":98.4},{"s":"gu3","x":1920,"y":98.9},{"s":"gu3","x":1980,"y":98.9},{"s":"gu3","x":2060,"y":98.8},{"s":"gu3","x":2180,"y":98.4},
{"s":"gu4","x":100,"y":95.8},{"s":"gu4","x":160,"y":95.2},{"s":"gu4","x":220,"y":94.2},{"s":"gu4","x":260,"y":94.3},{"s":"gu4","x":300,"y":96.6},{"s":"gu4","x":340,"y":97.9},{"s":"gu4","x":400,"y":98.2},{"s":"gu4","x":480,"y":98.4},{"s":"gu4","x":560,"y":98.5},{"s":"gu4","x":640,"y":98.6},{"s":"gu4","x":720,"y":98.3},{"s":"gu4","x":800,"y":98.2},{"s":"gu4","x":880,"y":97.7},{"s":"gu4","x":960,"y":96.8},{"s":"gu4","x":1040,"y":96.3},{"s":"gu4","x":1120,"y":96.9},{"s":"gu4","x":1200,"y":97.3},{"s":"gu4","x":1280,"y":98.8},{"s":"gu4","x":1340,"y":97.4},{"s":"gu4","x":1400,"y":97.3},{"s":"gu4","x":1480,"y":97.2},{"s":"gu4","x":1560,"y":97},{"s":"gu4","x":1640,"y":96.5},{"s":"gu4","x":1720,"y":96.4},{"s":"gu4","x":1800,"y":97.1},{"s":"gu4","x":1880,"y":97.8},{"s":"gu4","x":1920,"y":98.3},{"s":"gu4","x":1980,"y":98.3},{"s":"gu4","x":2060,"y":98.1},{"s":"gu4","x":2180,"y":97.8},
{"s":"gu5","x":100,"y":95},{"s":"gu5","x":160,"y":94.2},{"s":"gu5","x":220,"y":93.6},{"s":"gu5","x":260,"y":93.7},{"s":"gu5","x":300,"y":95.8},{"s":"gu5","x":340,"y":97.2},{"s":"gu5","x":400,"y":97.5},{"s":"gu5","x":480,"y":97.8},{"s":"gu5","x":560,"y":97.9},{"s":"gu5","x":640,"y":98},{"s":"gu5","x":720,"y":97.6},{"s":"gu5","x":800,"y":97.6},{"s":"gu5","x":880,"y":97.1},{"s":"gu5","x":960,"y":96.2},{"s":"gu5","x":1040,"y":95.7},{"s":"gu5","x":1120,"y":96.3},{"s":"gu5","x":1200,"y":96.6},{"s":"gu5","x":1280,"y":98.3},{"s":"gu5","x":1340,"y":96.8},{"s":"gu5","x":1400,"y":96.7},{"s":"gu5","x":1480,"y":96.5},{"s":"gu5","x":1560,"y":96.2},{"s":"gu5","x":1640,"y":95.7},{"s":"gu5","x":1720,"y":95.6},{"s":"gu5","x":1800,"y":96.3},{"s":"gu5","x":1880,"y":97.1},{"s":"gu5","x":1920,"y":97.6},{"s":"gu5","x":1980,"y":97.6},{"s":"gu5","x":2060,"y":97.3},{"s":"gu5","x":2180,"y":97.1},
{"s":"gu6","x":100,"y":94.2},{"s":"gu6","x":160,"y":93.6},{"s":"gu6","x":220,"y":93},{"s":"gu6","x":260,"y":93.2},{"s":"gu6","x":300,"y":95.4},{"s":"gu6","x":340,"y":96.6},{"s":"gu6","x":400,"y":97},{"s":"gu6","x":480,"y":95},{"s":"gu6","x":560,"y":92},{"s":"gu6","x":640,"y":91},{"s":"gu6","x":720,"y":90.5},{"s":"gu6","x":800,"y":92.5},{"s":"gu6","x":880,"y":96.2},{"s":"gu6","x":960,"y":96},{"s":"gu6","x":1040,"y":95.4},{"s":"gu6","x":1120,"y":95.2},{"s":"gu6","x":1200,"y":92.5},{"s":"gu6","x":1280,"y":94.3},{"s":"gu6","x":1340,"y":95.5},{"s":"gu6","x":1400,"y":94.3},{"s":"gu6","x":1480,"y":93.8},{"s":"gu6","x":1560,"y":93},{"s":"gu6","x":1640,"y":92},{"s":"gu6","x":1720,"y":91.2},{"s":"gu6","x":1800,"y":91.7},{"s":"gu6","x":1820,"y":88.4},{"s":"gu6","x":1880,"y":92.8},{"s":"gu6","x":1920,"y":93.2},{"s":"gu6","x":1980,"y":94.6},{"s":"gu6","x":2060,"y":96},{"s":"gu6","x":2180,"y":96.5},
{"s":"gl1","x":100,"y":90},{"s":"gl1","x":160,"y":88.5},{"s":"gl1","x":220,"y":86},{"s":"gl1","x":260,"y":88},{"s":"gl1","x":300,"y":94},{"s":"gl1","x":340,"y":96.5},{"s":"gl1","x":400,"y":97.5},{"s":"gl1","x":480,"y":98},{"s":"gl1","x":560,"y":98},{"s":"gl1","x":640,"y":98.5},{"s":"gl1","x":720,"y":98},{"s":"gl1","x":800,"y":98},{"s":"gl1","x":880,"y":97.5},{"s":"gl1","x":960,"y":96.5},{"s":"gl1","x":1040,"y":96},{"s":"gl1","x":1120,"y":96.5},{"s":"gl1","x":1200,"y":97},{"s":"gl1","x":1280,"y":98.8},{"s":"gl1","x":1340,"y":97.5},{"s":"gl1","x":1400,"y":97.5},{"s":"gl1","x":1480,"y":97},{"s":"gl1","x":1560,"y":97},{"s":"gl1","x":1640,"y":96.5},{"s":"gl1","x":1720,"y":96.5},{"s":"gl1","x":1800,"y":97},{"s":"gl1","x":1880,"y":97.5},{"s":"gl1","x":1920,"y":98},{"s":"gl1","x":1980,"y":98.5},{"s":"gl1","x":2060,"y":98},{"s":"gl1","x":2180,"y":98},
{"s":"gl2","x":100,"y":88.8},{"s":"gl2","x":160,"y":87.2},{"s":"gl2","x":220,"y":85},{"s":"gl2","x":260,"y":86.8},{"s":"gl2","x":300,"y":92.8},{"s":"gl2","x":340,"y":96},{"s":"gl2","x":400,"y":97},{"s":"gl2","x":480,"y":97.4},{"s":"gl2","x":560,"y":97.5},{"s":"gl2","x":640,"y":97.9},{"s":"gl2","x":720,"y":97.4},{"s":"gl2","x":800,"y":97.4},{"s":"gl2","x":880,"y":96.9},{"s":"gl2","x":960,"y":95.9},{"s":"gl2","x":1040,"y":95.4},{"s":"gl2","x":1120,"y":95.9},{"s":"gl2","x":1200,"y":96.5},{"s":"gl2","x":1280,"y":98.4},{"s":"gl2","x":1340,"y":96.9},{"s":"gl2","x":1400,"y":97},{"s":"gl2","x":1480,"y":96.4},{"s":"gl2","x":1560,"y":96.4},{"s":"gl2","x":1640,"y":95.9},{"s":"gl2","x":1720,"y":95.5},{"s":"gl2","x":1800,"y":96.4},{"s":"gl2","x":1880,"y":96.9},{"s":"gl2","x":1920,"y":97.4},{"s":"gl2","x":1980,"y":97.9},{"s":"gl2","x":2060,"y":97.4},{"s":"gl2","x":2180,"y":97.4},
{"s":"gl3","x":100,"y":87.6},{"s":"gl3","x":160,"y":86},{"s":"gl3","x":220,"y":84.2},{"s":"gl3","x":260,"y":85.8},{"s":"gl3","x":300,"y":91},{"s":"gl3","x":340,"y":95.4},{"s":"gl3","x":400,"y":96.4},{"s":"gl3","x":480,"y":96.8},{"s":"gl3","x":560,"y":96.9},{"s":"gl3","x":640,"y":97.3},{"s":"gl3","x":720,"y":96.8},{"s":"gl3","x":800,"y":96.9},{"s":"gl3","x":880,"y":96.3},{"s":"gl3","x":960,"y":95.4},{"s":"gl3","x":1040,"y":94.9},{"s":"gl3","x":1120,"y":95.4},{"s":"gl3","x":1200,"y":95.9},{"s":"gl3","x":1280,"y":97.9},{"s":"gl3","x":1340,"y":96.3},{"s":"gl3","x":1400,"y":96.4},{"s":"gl3","x":1480,"y":95.8},{"s":"gl3","x":1560,"y":95.8},{"s":"gl3","x":1640,"y":95},{"s":"gl3","x":1720,"y":94.8},{"s":"gl3","x":1800,"y":95.8},{"s":"gl3","x":1880,"y":96.4},{"s":"gl3","x":1920,"y":96.9},{"s":"gl3","x":1980,"y":97.3},{"s":"gl3","x":2060,"y":96.8},{"s":"gl3","x":2180,"y":96.8},
{"s":"gl4","x":100,"y":86.2},{"s":"gl4","x":160,"y":84.5},{"s":"gl4","x":220,"y":83},{"s":"gl4","x":260,"y":85},{"s":"gl4","x":300,"y":89.2},{"s":"gl4","x":340,"y":94.6},{"s":"gl4","x":400,"y":95.9},{"s":"gl4","x":480,"y":96.1},{"s":"gl4","x":560,"y":96.2},{"s":"gl4","x":640,"y":96.6},{"s":"gl4","x":720,"y":96.1},{"s":"gl4","x":800,"y":96.2},{"s":"gl4","x":880,"y":95.6},{"s":"gl4","x":960,"y":94.8},{"s":"gl4","x":1040,"y":94.4},{"s":"gl4","x":1120,"y":94.9},{"s":"gl4","x":1200,"y":95.4},{"s":"gl4","x":1280,"y":97.2},{"s":"gl4","x":1340,"y":95.6},{"s":"gl4","x":1400,"y":95.7},{"s":"gl4","x":1480,"y":95.2},{"s":"gl4","x":1560,"y":95.1},{"s":"gl4","x":1640,"y":94.2},{"s":"gl4","x":1720,"y":94},{"s":"gl4","x":1800,"y":95},{"s":"gl4","x":1880,"y":95.6},{"s":"gl4","x":1920,"y":96.2},{"s":"gl4","x":1980,"y":96.7},{"s":"gl4","x":2060,"y":96.1},{"s":"gl4","x":2180,"y":96.1},
{"s":"bb1","x":100,"y":97},{"s":"bb1","x":160,"y":96},{"s":"bb1","x":220,"y":95},{"s":"bb1","x":260,"y":95.3},{"s":"bb1","x":300,"y":97.5},{"s":"bb1","x":340,"y":96},{"s":"bb1","x":400,"y":97.5},{"s":"bb1","x":460,"y":97.5},{"s":"bb1","x":500,"y":99.8},{"s":"bb1","x":560,"y":99},{"s":"bb1","x":640,"y":99.5},{"s":"bb1","x":720,"y":99.5},{"s":"bb1","x":820,"y":98},{"s":"bb1","x":920,"y":97},{"s":"bb1","x":1000,"y":96},{"s":"bb1","x":1100,"y":96.5},{"s":"bb1","x":1160,"y":97.5},{"s":"bb1","x":1220,"y":98},{"s":"bb1","x":1280,"y":99.2},{"s":"bb1","x":1300,"y":95.3},{"s":"bb1","x":1320,"y":94.7},{"s":"bb1","x":1340,"y":92.9},{"s":"bb1","x":1380,"y":92.2},{"s":"bb1","x":1440,"y":92.2},{"s":"bb1","x":1480,"y":92.9},{"s":"bb1","x":1500,"y":96.2},{"s":"bb1","x":1540,"y":96.4},{"s":"bb1","x":1560,"y":95.8},{"s":"bb1","x":1600,"y":89.2},{"s":"bb1","x":1620,"y":85.4},{"s":"bb1","x":1640,"y":79.2},{"s":"bb1","x":1660,"y":74.8},{"s":"bb1","x":1680,"y":65.3},{"s":"bb1","x":1700,"y":62},{"s":"bb1","x":1720,"y":60},{"s":"bb1","x":1740,"y":60},{"s":"bb1","x":1760,"y":59.5},{"s":"bb1","x":1780,"y":69.8},{"s":"bb1","x":1800,"y":74.8},{"s":"bb1","x":1820,"y":81.9},{"s":"bb1","x":1840,"y":88.5},{"s":"bb1","x":1860,"y":93},{"s":"bb1","x":1880,"y":98},{"s":"bb1","x":1920,"y":97.5},{"s":"bb1","x":1980,"y":98.3},{"s":"bb1","x":2060,"y":96.7},{"s":"bb1","x":2080,"y":95.3},{"s":"bb1","x":2120,"y":95.3},{"s":"bb1","x":2140,"y":96.2},{"s":"bb1","x":2180,"y":96.7},
{"s":"bb2","x":100,"y":96.5},{"s":"bb2","x":160,"y":95.5},{"s":"bb2","x":220,"y":95.5},{"s":"bb2","x":280,"y":96},{"s":"bb2","x":320,"y":97},{"s":"bb2","x":400,"y":98.5},{"s":"bb2","x":480,"y":99},{"s":"bb2","x":560,"y":99.5},{"s":"bb2","x":640,"y":99},{"s":"bb2","x":720,"y":99},{"s":"bb2","x":800,"y":98.5},{"s":"bb2","x":880,"y":98},{"s":"bb2","x":960,"y":97.5},{"s":"bb2","x":1040,"y":97},{"s":"bb2","x":1120,"y":97.5},{"s":"bb2","x":1200,"y":98.5},{"s":"bb2","x":1280,"y":99.5},{"s":"bb2","x":1320,"y":98.5},{"s":"bb2","x":1380,"y":98},{"s":"bb2","x":1440,"y":97.5},{"s":"bb2","x":1500,"y":97.5},{"s":"bb2","x":1520,"y":98.3},{"s":"bb2","x":1560,"y":98},{"s":"bb2","x":1580,"y":95.8},{"s":"bb2","x":1600,"y":91},{"s":"bb2","x":1620,"y":87},{"s":"bb2","x":1640,"y":82},{"s":"bb2","x":1660,"y":77},{"s":"bb2","x":1680,"y":70},{"s":"bb2","x":1700,"y":62.5},{"s":"bb2","x":1720,"y":63},{"s":"bb2","x":1760,"y":63.6},{"s":"bb2","x":1780,"y":68},{"s":"bb2","x":1800,"y":75},{"s":"bb2","x":1820,"y":83},{"s":"bb2","x":1840,"y":89.5},{"s":"bb2","x":1860,"y":94},{"s":"bb2","x":1880,"y":97},{"s":"bb2","x":1920,"y":98.5},{"s":"bb2","x":1980,"y":98},{"s":"bb2","x":2040,"y":97.5},{"s":"bb2","x":2100,"y":98.8},{"s":"bb2","x":2160,"y":98.8},{"s":"bb2","x":2180,"y":98.8}
],
"C":[
{"s":"gc1","x":100,"y":89},{"s":"gc1","x":160,"y":92},{"s":"gc1","x":220,"y":95},{"s":"gc1","x":260,"y":97},{"s":"gc1","x":300,"y":98},{"s":"gc1","x":340,"y":98.5},{"s":"gc1","x":400,"y":98},{"s":"gc1","x":480,"y":97.5},{"s":"gc1","x":560,"y":96.5},{"s":"gc1","x":640,"y":97},{"s":"gc1","x":720,"y":97.5},{"s":"gc1","x":800,"y":97},{"s":"gc1","x":880,"y":96.5},{"s":"gc1","x":960,"y":96},{"s":"gc1","x":1040,"y":95.5},{"s":"gc1","x":1120,"y":95},{"s":"gc1","x":1200,"y":95.5},{"s":"gc1","x":1280,"y":96},{"s":"gc1","x":1340,"y":95.5},{"s":"gc1","x":1400,"y":95.5},{"s":"gc1","x":1480,"y":95.5},{"s":"gc1","x":1560,"y":96.5},{"s":"gc1","x":1600,"y":90.2},{"s":"gc1","x":1620,"y":86},{"s":"gc1","x":1640,"y":82},{"s":"gc1","x":1660,"y":78.6},{"s":"gc1","x":1680,"y":70.8},{"s":"gc1","x":1700,"y":67.2},{"s":"gc1","x":1720,"y":66.4},{"s":"gc1","x":1760,"y":66.3},{"s":"gc1","x":1780,"y":71.4},{"s":"gc1","x":1800,"y":72.5},{"s":"gc1","x":1820,"y":79},{"s":"gc1","x":1840,"y":87.4},{"s":"gc1","x":1860,"y":90.2},{"s":"gc1","x":1880,"y":93},{"s":"gc1","x":1900,"y":95},{"s":"gc1","x":1980,"y":95.5},{"s":"gc1","x":2060,"y":96.5},{"s":"gc1","x":2120,"y":96},{"s":"gc1","x":2180,"y":95},
{"s":"gc2","x":100,"y":96},{"s":"gc2","x":160,"y":95.5},{"s":"gc2","x":220,"y":96},{"s":"gc2","x":260,"y":97.5},{"s":"gc2","x":300,"y":98.5},{"s":"gc2","x":340,"y":98.5},{"s":"gc2","x":400,"y":97.5},{"s":"gc2","x":480,"y":97},{"s":"gc2","x":560,"y":97},{"s":"gc2","x":640,"y":97.5},{"s":"gc2","x":720,"y":99},{"s":"gc2","x":800,"y":98},{"s":"gc2","x":880,"y":97},{"s":"gc2","x":960,"y":96.5},{"s":"gc2","x":1040,"y":95},{"s":"gc2","x":1120,"y":94.5},{"s":"gc2","x":1200,"y":94.5},{"s":"gc2","x":1280,"y":95.5},{"s":"gc2","x":1340,"y":95},{"s":"gc2","x":1400,"y":95.5},{"s":"gc2","x":1480,"y":95.5},{"s":"gc2","x":1560,"y":96},{"s":"gc2","x":1620,"y":89},{"s":"gc2","x":1640,"y":84.7},{"s":"gc2","x":1660,"y":79},{"s":"gc2","x":1680,"y":71.5},{"s":"gc2","x":1700,"y":65.8},{"s":"gc2","x":1740,"y":65},{"s":"gc2","x":1760,"y":66.3},{"s":"gc2","x":1780,"y":71},{"s":"gc2","x":1800,"y":73},{"s":"gc2","x":1820,"y":80},{"s":"gc2","x":1840,"y":88},{"s":"gc2","x":1860,"y":91},{"s":"gc2","x":1880,"y":94},{"s":"gc2","x":1920,"y":95},{"s":"gc2","x":1980,"y":95},{"s":"gc2","x":2060,"y":97},{"s":"gc2","x":2120,"y":96.5},{"s":"gc2","x":2180,"y":94.5},
{"s":"gc3","x":100,"y":93},{"s":"gc3","x":160,"y":93.5},{"s":"gc3","x":220,"y":94},{"s":"gc3","x":260,"y":96},{"s":"gc3","x":300,"y":97.5},{"s":"gc3","x":340,"y":97},{"s":"gc3","x":400,"y":94.5},{"s":"gc3","x":420,"y":94},{"s":"gc3","x":480,"y":93.5},{"s":"gc3","x":560,"y":92.1},{"s":"gc3","x":600,"y":93.5},{"s":"gc3","x":680,"y":93.8},{"s":"gc3","x":720,"y":95.2},{"s":"gc3","x":760,"y":95.4},{"s":"gc3","x":820,"y":96},{"s":"gc3","x":880,"y":95.5},{"s":"gc3","x":960,"y":95},{"s":"gc3","x":1040,"y":94.5},{"s":"gc3","x":1120,"y":94.5},{"s":"gc3","x":1200,"y":94.5},{"s":"gc3","x":1280,"y":95.5},{"s":"gc3","x":1340,"y":95},{"s":"gc3","x":1400,"y":95},{"s":"gc3","x":1480,"y":95},{"s":"gc3","x":1560,"y":96.5},{"s":"gc3","x":1620,"y":92},{"s":"gc3","x":1660,"y":82},{"s":"gc3","x":1680,"y":69.2},{"s":"gc3","x":1700,"y":61.7},{"s":"gc3","x":1720,"y":63.1},{"s":"gc3","x":1740,"y":63.2},{"s":"gc3","x":1760,"y":66.3},{"s":"gc3","x":1780,"y":71},{"s":"gc3","x":1800,"y":72},{"s":"gc3","x":1820,"y":78},{"s":"gc3","x":1840,"y":86},{"s":"gc3","x":1860,"y":90},{"s":"gc3","x":1880,"y":93},{"s":"gc3","x":1920,"y":95},{"s":"gc3","x":1980,"y":96},{"s":"gc3","x":2060,"y":96},{"s":"gc3","x":2120,"y":95},{"s":"gc3","x":2180,"y":93},
{"s":"gc4","x":100,"y":95},{"s":"gc4","x":160,"y":94},{"s":"gc4","x":220,"y":95.5},{"s":"gc4","x":260,"y":97},{"s":"gc4","x":300,"y":97.5},{"s":"gc4","x":340,"y":97},{"s":"gc4","x":400,"y":96.5},{"s":"gc4","x":480,"y":96},{"s":"gc4","x":560,"y":96.5},{"s":"gc4","x":640,"y":97},{"s":"gc4","x":720,"y":97.5},{"s":"gc4","x":800,"y":96},{"s":"gc4","x":880,"y":95.5},{"s":"gc4","x":960,"y":94.5},{"s":"gc4","x":1040,"y":94},{"s":"gc4","x":1120,"y":93.5},{"s":"gc4","x":1200,"y":94},{"s":"gc4","x":1280,"y":96},{"s":"gc4","x":1320,"y":92.4},{"s":"gc4","x":1380,"y":93},{"s":"gc4","x":1420,"y":91.6},{"s":"gc4","x":1480,"y":92.4},{"s":"gc4","x":1540,"y":94.6},{"s":"gc4","x":1560,"y":96},{"s":"gc4","x":1600,"y":96},{"s":"gc4","x":1640,"y":95.5},{"s":"gc4","x":1720,"y":96},{"s":"gc4","x":1800,"y":95.5},{"s":"gc4","x":1880,"y":95},{"s":"gc4","x":1920,"y":95.5},{"s":"gc4","x":1980,"y":96.5},{"s":"gc4","x":2060,"y":97},{"s":"gc4","x":2120,"y":96},{"s":"gc4","x":2180,"y":91.8},
{"s":"yc1","x":100,"y":91.5},{"s":"yc1","x":140,"y":90.2},{"s":"yc1","x":180,"y":91},{"s":"yc1","x":220,"y":92},{"s":"yc1","x":260,"y":93.5},{"s":"yc1","x":300,"y":96.5},{"s":"yc1","x":340,"y":98},{"s":"yc1","x":400,"y":98},{"s":"yc1","x":480,"y":98.5},{"s":"yc1","x":560,"y":99.5},{"s":"yc1","x":640,"y":100},{"s":"yc1","x":720,"y":99.5},{"s":"yc1","x":800,"y":98},{"s":"yc1","x":880,"y":97.5},{"s":"yc1","x":960,"y":96},{"s":"yc1","x":1040,"y":96.5},{"s":"yc1","x":1120,"y":97},{"s":"yc1","x":1200,"y":96.5},{"s":"yc1","x":1260,"y":95},{"s":"yc1","x":1280,"y":94},{"s":"yc1","x":1300,"y":86.5},{"s":"yc1","x":1320,"y":83},{"s":"yc1","x":1340,"y":76},{"s":"yc1","x":1360,"y":72},{"s":"yc1","x":1380,"y":66.7},{"s":"yc1","x":1400,"y":67},{"s":"yc1","x":1420,"y":69.3},{"s":"yc1","x":1440,"y":69},{"s":"yc1","x":1480,"y":71.4},{"s":"yc1","x":1500,"y":83.3},{"s":"yc1","x":1520,"y":85.5},{"s":"yc1","x":1540,"y":92},{"s":"yc1","x":1560,"y":98.5},{"s":"yc1","x":1600,"y":98},{"s":"yc1","x":1680,"y":97.5},{"s":"yc1","x":1760,"y":97.5},{"s":"yc1","x":1840,"y":97},{"s":"yc1","x":1900,"y":96},{"s":"yc1","x":1960,"y":96.5},{"s":"yc1","x":2040,"y":97},{"s":"yc1","x":2100,"y":96},{"s":"yc1","x":2180,"y":94.8},
{"s":"c1","x":100,"y":98.3},{"s":"c1","x":160,"y":98.5},{"s":"c1","x":220,"y":98.5},{"s":"c1","x":260,"y":99},{"s":"c1","x":300,"y":99.5},{"s":"c1","x":340,"y":100},{"s":"c1","x":400,"y":100},{"s":"c1","x":480,"y":99.5},{"s":"c1","x":560,"y":99},{"s":"c1","x":640,"y":99.5},{"s":"c1","x":720,"y":100},{"s":"c1","x":800,"y":99.5},{"s":"c1","x":880,"y":99},{"s":"c1","x":960,"y":98.5},{"s":"c1","x":1040,"y":98.5},{"s":"c1","x":1120,"y":99},{"s":"c1","x":1200,"y":98},{"s":"c1","x":1280,"y":97.5},{"s":"c1","x":1340,"y":97},{"s":"c1","x":1400,"y":97},{"s":"c1","x":1480,"y":97},{"s":"c1","x":1560,"y":98.5},{"s":"c1","x":1640,"y":98},{"s":"c1","x":1720,"y":98},{"s":"c1","x":1800,"y":98.5},{"s":"c1","x":1880,"y":99},{"s":"c1","x":1920,"y":99},{"s":"c1","x":1980,"y":99},{"s":"c1","x":2060,"y":99.8},{"s":"c1","x":2120,"y":99.5},{"s":"c1","x":2180,"y":98.5},
{"s":"c2","x":100,"y":97.8},{"s":"c2","x":160,"y":98},{"s":"c2","x":220,"y":97.6},{"s":"c2","x":260,"y":98.4},{"s":"c2","x":300,"y":99},{"s":"c2","x":340,"y":99.5},{"s":"c2","x":400,"y":99.3},{"s":"c2","x":480,"y":98.8},{"s":"c2","x":560,"y":98.4},{"s":"c2","x":640,"y":99},{"s":"c2","x":720,"y":99.4},{"s":"c2","x":800,"y":98.9},{"s":"c2","x":880,"y":98.4},{"s":"c2","x":960,"y":98},{"s":"c2","x":1040,"y":98.1},{"s":"c2","x":1120,"y":99.9},{"s":"c2","x":1200,"y":97.4},{"s":"c2","x":1280,"y":97},{"s":"c2","x":1340,"y":96.6},{"s":"c2","x":1400,"y":96.4},{"s":"c2","x":1480,"y":96.6},{"s":"c2","x":1560,"y":98},{"s":"c2","x":1640,"y":97.6},{"s":"c2","x":1720,"y":97.4},{"s":"c2","x":1800,"y":98},{"s":"c2","x":1880,"y":98.6},{"s":"c2","x":1920,"y":98.4},{"s":"c2","x":1980,"y":98.6},{"s":"c2","x":2060,"y":99.3},{"s":"c2","x":2120,"y":99},{"s":"c2","x":2180,"y":98},
{"s":"c3","x":100,"y":96.8},{"s":"c3","x":160,"y":97.6},{"s":"c3","x":220,"y":97.4},{"s":"c3","x":260,"y":97.8},{"s":"c3","x":300,"y":98.4},{"s":"c3","x":340,"y":99},{"s":"c3","x":400,"y":98.4},{"s":"c3","x":480,"y":97.9},{"s":"c3","x":560,"y":97.9},{"s":"c3","x":640,"y":98.4},{"s":"c3","x":720,"y":98.9},{"s":"c3","x":800,"y":98.4},{"s":"c3","x":880,"y":97.9},{"s":"c3","x":960,"y":97.4},{"s":"c3","x":1040,"y":97.4},{"s":"c3","x":1120,"y":97.9},{"s":"c3","x":1200,"y":96.9},{"s":"c3","x":1280,"y":96.5},{"s":"c3","x":1340,"y":96},{"s":"c3","x":1400,"y":95.9},{"s":"c3","x":1480,"y":96.1},{"s":"c3","x":1560,"y":97.4},{"s":"c3","x":1640,"y":97.1},{"s":"c3","x":1720,"y":96.9},{"s":"c3","x":1800,"y":97.4},{"s":"c3","x":1880,"y":98},{"s":"c3","x":1920,"y":97.9},{"s":"c3","x":1980,"y":97.9},{"s":"c3","x":2060,"y":98.6},{"s":"c3","x":2120,"y":98.4},{"s":"c3","x":2180,"y":97.4},
{"s":"c4","x":100,"y":96},{"s":"c4","x":160,"y":96.4},{"s":"c4","x":220,"y":96.5},{"s":"c4","x":260,"y":97.1},{"s":"c4","x":300,"y":97.9},{"s":"c4","x":340,"y":98.4},{"s":"c4","x":400,"y":97.4},{"s":"c4","x":480,"y":97},{"s":"c4","x":560,"y":97.1},{"s":"c4","x":640,"y":97.9},{"s":"c4","x":720,"y":98.4},{"s":"c4","x":800,"y":97.9},{"s":"c4","x":880,"y":97.4},{"s":"c4","x":960,"y":96.9},{"s":"c4","x":1040,"y":96.9},{"s":"c4","x":1120,"y":97.4},{"s":"c4","x":1200,"y":96.4},{"s":"c4","x":1280,"y":96},{"s":"c4","x":1340,"y":95.5},{"s":"c4","x":1400,"y":95.4},{"s":"c4","x":1480,"y":95.6},{"s":"c4","x":1560,"y":96.9},{"s":"c4","x":1640,"y":96.5},{"s":"c4","x":1720,"y":96.4},{"s":"c4","x":1800,"y":97},{"s":"c4","x":1880,"y":97.5},{"s":"c4","x":1920,"y":97.4},{"s":"c4","x":1980,"y":97.4},{"s":"c4","x":2060,"y":98},{"s":"c4","x":2120,"y":98},{"s":"c4","x":2180,"y":97},
{"s":"c5","x":100,"y":93.5},{"s":"c5","x":160,"y":94.1},{"s":"c5","x":220,"y":95},{"s":"c5","x":260,"y":96.4},{"s":"c5","x":300,"y":97.4},{"s":"c5","x":340,"y":97.9},{"s":"c5","x":400,"y":97},{"s":"c5","x":480,"y":96.4},{"s":"c5","x":560,"y":96.6},{"s":"c5","x":640,"y":97},{"s":"c5","x":720,"y":97.9},{"s":"c5","x":800,"y":97.4},{"s":"c5","x":880,"y":96.9},{"s":"c5","x":960,"y":96.4},{"s":"c5","x":1040,"y":96.4},{"s":"c5","x":1120,"y":96.9},{"s":"c5","x":1200,"y":95.9},{"s":"c5","x":1280,"y":95.4},{"s":"c5","x":1340,"y":95.1},{"s":"c5","x":1400,"y":94.9},{"s":"c5","x":1480,"y":95.1},{"s":"c5","x":1560,"y":96.4},{"s":"c5","x":1640,"y":96},{"s":"c5","x":1720,"y":95.9},{"s":"c5","x":1800,"y":96.5},{"s":"c5","x":1880,"y":97},{"s":"c5","x":1920,"y":96.9},{"s":"c5","x":1980,"y":96.9},{"s":"c5","x":2060,"y":97.5},{"s":"c5","x":2120,"y":97.4},{"s":"c5","x":2180,"y":96.5},
{"s":"c6","x":100,"y":92.9},{"s":"c6","x":160,"y":93},{"s":"c6","x":220,"y":93.4},{"s":"c6","x":260,"y":95.4},{"s":"c6","x":300,"y":96.9},{"s":"c6","x":340,"y":97.4},{"s":"c6","x":400,"y":96.4},{"s":"c6","x":480,"y":96},{"s":"c6","x":560,"y":95.9},{"s":"c6","x":640,"y":96.4},{"s":"c6","x":720,"y":97.4},{"s":"c6","x":800,"y":96.9},{"s":"c6","x":880,"y":96.4},{"s":"c6","x":960,"y":95.9},{"s":"c6","x":1040,"y":96},{"s":"c6","x":1120,"y":96.5},{"s":"c6","x":1200,"y":95.4},{"s":"c6","x":1280,"y":95.1},{"s":"c6","x":1340,"y":94.9},{"s":"c6","x":1400,"y":94.7},{"s":"c6","x":1480,"y":94.8},{"s":"c6","x":1560,"y":95.9},{"s":"c6","x":1640,"y":95.9},{"s":"c6","x":1720,"y":96.4},{"s":"c6","x":1800,"y":95.9},{"s":"c6","x":1880,"y":96.5},{"s":"c6","x":1920,"y":96},{"s":"c6","x":1980,"y":95.9},{"s":"c6","x":2060,"y":97},{"s":"c6","x":2120,"y":96.9},{"s":"c6","x":2180,"y":96},
{"s":"c7","x":100,"y":92.4},{"s":"c7","x":160,"y":92},{"s":"c7","x":220,"y":92.1},{"s":"c7","x":260,"y":94},{"s":"c7","x":300,"y":96.4},{"s":"c7","x":340,"y":96.9},{"s":"c7","x":400,"y":96},{"s":"c7","x":480,"y":95.9},{"s":"c7","x":560,"y":95.5},{"s":"c7","x":640,"y":96},{"s":"c7","x":720,"y":96.9},{"s":"c7","x":800,"y":96.4},{"s":"c7","x":880,"y":95.9},{"s":"c7","x":960,"y":95},{"s":"c7","x":1040,"y":95},{"s":"c7","x":1120,"y":95.4},{"s":"c7","x":1200,"y":95},{"s":"c7","x":1280,"y":94.9},{"s":"c7","x":1340,"y":94.5},{"s":"c7","x":1400,"y":94.4},{"s":"c7","x":1480,"y":94.5},{"s":"c7","x":1560,"y":96},{"s":"c7","x":1640,"y":95.4},{"s":"c7","x":1720,"y":95.5},{"s":"c7","x":1800,"y":95.4},{"s":"c7","x":1880,"y":95.9},{"s":"c7","x":1920,"y":95.4},{"s":"c7","x":1980,"y":95},{"s":"c7","x":2060,"y":96},{"s":"c7","x":2120,"y":95.9},{"s":"c7","x":2180,"y":95.4},
{"s":"c8","x":100,"y":91},{"s":"c8","x":160,"y":91.5},{"s":"c8","x":220,"y":92},{"s":"c8","x":260,"y":93},{"s":"c8","x":300,"y":95},{"s":"c8","x":340,"y":93.5},{"s":"c8","x":380,"y":92.4},{"s":"c8","x":400,"y":91.3},{"s":"c8","x":440,"y":90.7},{"s":"c8","x":480,"y":90.5},{"s":"c8","x":520,"y":90.4},{"s":"c8","x":580,"y":90.4},{"s":"c8","x":600,"y":93.5},{"s":"c8","x":640,"y":94},{"s":"c8","x":720,"y":96},{"s":"c8","x":800,"y":96.5},{"s":"c8","x":880,"y":96},{"s":"c8","x":960,"y":95.5},{"s":"c8","x":1040,"y":95},{"s":"c8","x":1120,"y":95},{"s":"c8","x":1200,"y":94.5},{"s":"c8","x":1280,"y":94.5},{"s":"c8","x":1340,"y":95},{"s":"c8","x":1400,"y":95},{"s":"c8","x":1480,"y":95},{"s":"c8","x":1560,"y":95.5},{"s":"c8","x":1640,"y":95.5},{"s":"c8","x":1720,"y":96},{"s":"c8","x":1800,"y":95.5},{"s":"c8","x":1880,"y":95},{"s":"c8","x":1920,"y":94.5},{"s":"c8","x":1980,"y":94},{"s":"c8","x":2060,"y":94.5},{"s":"c8","x":2120,"y":95},{"s":"c8","x":2180,"y":95},
{"s":"c9","x":100,"y":98},{"s":"c9","x":160,"y":97.5},{"s":"c9","x":220,"y":96.5},{"s":"c9","x":260,"y":96.5},{"s":"c9","x":300,"y":96.5},{"s":"c9","x":340,"y":96.5},{"s":"c9","x":400,"y":96},{"s":"c9","x":480,"y":96},{"s":"c9","x":560,"y":95.5},{"s":"c9","x":640,"y":96},{"s":"c9","x":720,"y":96.5},{"s":"c9","x":800,"y":96.5},{"s":"c9","x":880,"y":96.3},{"s":"c9","x":960,"y":94.5},{"s":"c9","x":1020,"y":92.9},{"s":"c9","x":1060,"y":91.8},{"s":"c9","x":1100,"y":90.7},{"s":"c9","x":1160,"y":88.8},{"s":"c9","x":1180,"y":90.4},{"s":"c9","x":1240,"y":90.7},{"s":"c9","x":1260,"y":90.4},{"s":"c9","x":1280,"y":91},{"s":"c9","x":1340,"y":93},{"s":"c9","x":1400,"y":95},{"s":"c9","x":1480,"y":95.5},{"s":"c9","x":1560,"y":96},{"s":"c9","x":1640,"y":96},{"s":"c9","x":1720,"y":96},{"s":"c9","x":1800,"y":96},{"s":"c9","x":1880,"y":96},{"s":"c9","x":1920,"y":95},{"s":"c9","x":1980,"y":94.5},{"s":"c9","x":2060,"y":95},{"s":"c9","x":2120,"y":96},{"s":"c9","x":2180,"y":96.5},
{"s":"c10","x":100,"y":95},{"s":"c10","x":160,"y":95.5},{"s":"c10","x":220,"y":96},{"s":"c10","x":260,"y":97},{"s":"c10","x":300,"y":97.5},{"s":"c10","x":340,"y":98},{"s":"c10","x":400,"y":97.5},{"s":"c10","x":480,"y":97},{"s":"c10","x":560,"y":97},{"s":"c10","x":640,"y":97.5},{"s":"c10","x":720,"y":98},{"s":"c10","x":800,"y":97.5},{"s":"c10","x":880,"y":97.5},{"s":"c10","x":960,"y":97},{"s":"c10","x":1040,"y":96.5},{"s":"c10","x":1120,"y":97},{"s":"c10","x":1200,"y":96},{"s":"c10","x":1280,"y":96},{"s":"c10","x":1340,"y":96},{"s":"c10","x":1400,"y":96},{"s":"c10","x":1480,"y":96},{"s":"c10","x":1560,"y":92.9},{"s":"c10","x":1620,"y":91},{"s":"c10","x":1660,"y":90.4},{"s":"c10","x":1700,"y":91},{"s":"c10","x":1760,"y":89.9},{"s":"c10","x":1840,"y":89.9},{"s":"c10","x":1860,"y":93.5},{"s":"c10","x":1880,"y":95.2},{"s":"c10","x":1920,"y":96},{"s":"c10","x":1980,"y":96.5},{"s":"c10","x":2060,"y":97},{"s":"c10","x":2120,"y":97.5},{"s":"c10","x":2180,"y":97}
],
"cuts":[{"x":1280},{"x":1900}],
"note":[{"t":"Window : 200 bp, Step: 20 bp, GapStrip: Off, Kimura (2-parameter), T/t: Variable"}],
"segs":[{"t":"Segmento 1","x":688},{"t":"Segmento 2","x":1600},{"t":"Segmento 3","x":2090}]
},
"vconcat":[
{"width":650,"height":366,
"title":{"text":"A – Grupo Ocidental","offset":22},
"resolve":{"axis":{"x":"independent","y":"independent"}},
"layer":[
{"data":{"name":"A"},"mark":{"type":"line","strokeWidth":1},
"encoding":{
"x":{"field":"x","type":"quantitative","scale":{"domain":[0,2280],"nice":false,"zero":false},"axis":{"orient":"bottom","values":[0,50,100,150,200,250,300,350,400,450,500,550,600,650,700,750,800,850,900,950,1000,1050,1100,1150,1200,1250,1300,1350,1400,1450,1500,1550,1600,1650,1700,1750,1800,1850,1900,1950,2000,2050,2100,2150,2200],"labelExpr":"datum.value % 100 === 0 ? replace(format(datum.value, ','), ',', '.') : ''","labelPadding":1,"labelOverlap":false,"title":"Posição (pb)","titleFontSize":10,"titlePadding":13}},
"y":{"field":"y","type":"quantitative","scale":{"domain":[40,100.7],"nice":false,"zero":false},"axis":{"orient":"left","values":[40,41,42,43,44,45,46,47,48,49,50,51,52,53,54,55,56,57,58,59,60,61,62,63,64,65,66,67,68,69,70,71,72,73,74,75,76,77,78,79,80,81,82,83,84,85,86,87,88,89,90,91,92,93,94,95,96,97,98,99,100],"labelExpr":"datum.value % 2 === 0 ? datum.label : ''","labelPadding":1,"labelOverlap":false,"title":"Similaridade  (%)","titleFontSize":11,"titlePadding":8,"titleY":168}},
"color":{"field":"s","type":"nominal","legend":null,"scale":{"domain":["y1","y2","y3","y4","y5","y6","r1","r2","r3","r4","r5","r6","r7","r8","r9","r10","p1","p2","g1","o1","k1","b1","b2","b3"],"range":["#ffff00","#ffff00","#ffff00","#ffff00","#ffff00","#ffff00","#ff0000","#ff0000","#ff0000","#ff0000","#ff0000","#ff0000","#ff0000","#ff0000","#ff0000","#ff0000","#8c1aff","#8c1aff","#8a8a8a","#f28c28","#000000","#0000ff","#0000ff","#0000ff"]}}}},
{"data":{"name":"cuts"},"mark":{"type":"rule","color":"#2ee8f0","strokeWidth":1.5},
"encoding":{"x":{"field":"x","type":"quantitative","axis":{"orient":"top","labels":false,"ticks":false,"domainColor":"#7f7f7f","domainWidth":2,"title":null}}}},
{"data":{"name":"segs"},"mark":{"type":"text","fontSize":18,"font":"Liberation Sans","color":"#000","baseline":"middle","clip":false},
"encoding":{"x":{"field":"x","type":"quantitative","axis":null},"y":{"datum":103,"type":"quantitative","axis":null},"text":{"field":"t"}}},
{"data":{"name":"note"},"mark":{"type":"text","align":"right","baseline":"middle","dy":29,"fontSize":6,"font":"Liberation Sans","color":"#2b2bff","clip":false},
"encoding":{"x":{"datum":2272,"type":"quantitative","axis":null},"y":{"datum":40,"type":"quantitative","axis":null},"text":{"field":"t"}}}
]},
{"width":650,"height":366,
"title":{"text":"B – Grupo Oriental/Ameríndio"},
"resolve":{"axis":{"x":"independent","y":"independent"}},
"layer":[
{"data":{"name":"B"},"mark":{"type":"line","strokeWidth":1},
"encoding":{
"x":{"field":"x","type":"quantitative","scale":{"domain":[0,2280],"nice":false,"zero":false},"axis":{"orient":"bottom","values":[0,50,100,150,200,250,300,350,400,450,500,550,600,650,700,750,800,850,900,950,1000,1050,1100,1150,1200,1250,1300,1350,1400,1450,1500,1550,1600,1650,1700,1750,1800,1850,1900,1950,2000,2050,2100,2150,2200],"labelExpr":"datum.value % 100 === 0 ? replace(format(datum.value, ','), ',', '.') : ''","labelPadding":1,"labelOverlap":false,"title":"Posição (pb)","titleFontSize":10,"titlePadding":13}},
"y":{"field":"y","type":"quantitative","scale":{"domain":[40,100.7],"nice":false,"zero":false},"axis":{"orient":"left","values":[40,41,42,43,44,45,46,47,48,49,50,51,52,53,54,55,56,57,58,59,60,61,62,63,64,65,66,67,68,69,70,71,72,73,74,75,76,77,78,79,80,81,82,83,84,85,86,87,88,89,90,91,92,93,94,95,96,97,98,99,100],"labelExpr":"datum.value % 2 === 0 ? datum.label : ''","labelPadding":1,"labelOverlap":false,"title":"Similaridade  (%)","titleFontSize":11,"titlePadding":8,"titleY":168}},
"color":{"field":"s","type":"nominal","legend":null,"scale":{"domain":["gu1","gu2","gu3","gu4","gu5","gu6","gl1","gl2","gl3","gl4","bb1","bb2"],"range":["#00ff00","#00ff00","#00ff00","#00ff00","#00ff00","#00ff00","#00ff00","#00ff00","#00ff00","#00ff00","#0000ff","#0000ff"]}}}},
{"data":{"name":"cuts"},"mark":{"type":"rule","color":"#2ee8f0","strokeWidth":1.5},
"encoding":{"x":{"field":"x","type":"quantitative","axis":{"orient":"top","labels":false,"ticks":false,"domainColor":"#7f7f7f","domainWidth":2,"title":null}}}},
{"data":{"name":"note"},"mark":{"type":"text","align":"right","baseline":"middle","dy":29,"fontSize":6,"font":"Liberation Sans","color":"#2b2bff","clip":false},
"encoding":{"x":{"datum":2272,"type":"quantitative","axis":null},"y":{"datum":40,"type":"quantitative","axis":null},"text":{"field":"t"}}}
]},
{"width":650,"height":366,
"title":{"text":"C – Grupo Africano"},
"resolve":{"axis":{"x":"independent","y":"independent"}},
"layer":[
{"data":{"name":"C"},"mark":{"type":"line","strokeWidth":1},
"encoding":{
"x":{"field":"x","type":"quantitative","scale":{"domain":[0,2280],"nice":false,"zero":false},"axis":{"orient":"bottom","values":[0,50,100,150,200,250,300,350,400,450,500,550,600,650,700,750,800,850,900,950,1000,1050,1100,1150,1200,1250,1300,1350,1400,1450,1500,1550,1600,1650,1700,1750,1800,1850,1900,1950,2000,2050,2100,2150,2200],"labelExpr":"datum.value % 100 === 0 ? replace(format(datum.value, ','), ',', '.') : ''","labelPadding":1,"labelOverlap":false,"title":"Posição (pb)","titleFontSize":10,"titlePadding":13}},
"y":{"field":"y","type":"quantitative","scale":{"domain":[40,100.7],"nice":false,"zero":false},"axis":{"orient":"left","values":[40,41,42,43,44,45,46,47,48,49,50,51,52,53,54,55,56,57,58,59,60,61,62,63,64,65,66,67,68,69,70,71,72,73,74,75,76,77,78,79,80,81,82,83,84,85,86,87,88,89,90,91,92,93,94,95,96,97,98,99,100],"labelExpr":"datum.value % 2 === 0 ? datum.label : ''","labelPadding":1,"labelOverlap":false,"title":"Similaridade  (%)","titleFontSize":11,"titlePadding":8,"titleY":168}},
"color":{"field":"s","type":"nominal","legend":null,"scale":{"domain":["gc1","gc2","gc3","gc4","yc1","c1","c2","c3","c4","c5","c6","c7","c8","c9","c10"],"range":["#00ff00","#00ff00","#00ff00","#00ff00","#ffff00","#0000ff","#0000ff","#0000ff","#0000ff","#0000ff","#0000ff","#0000ff","#0000ff","#0000ff","#0000ff"]}}}},
{"data":{"name":"cuts"},"mark":{"type":"rule","color":"#2ee8f0","strokeWidth":1.5},
"encoding":{"x":{"field":"x","type":"quantitative","axis":{"orient":"top","labels":false,"ticks":false,"domainColor":"#7f7f7f","domainWidth":2,"title":null}}}},
{"data":{"name":"note"},"mark":{"type":"text","align":"right","baseline":"middle","dy":29,"fontSize":6,"font":"Liberation Sans","color":"#2b2bff","clip":false},
"encoding":{"x":{"datum":2272,"type":"quantitative","axis":null},"y":{"datum":40,"type":"quantitative","axis":null},"text":{"field":"t"}}}
]}
]
}
